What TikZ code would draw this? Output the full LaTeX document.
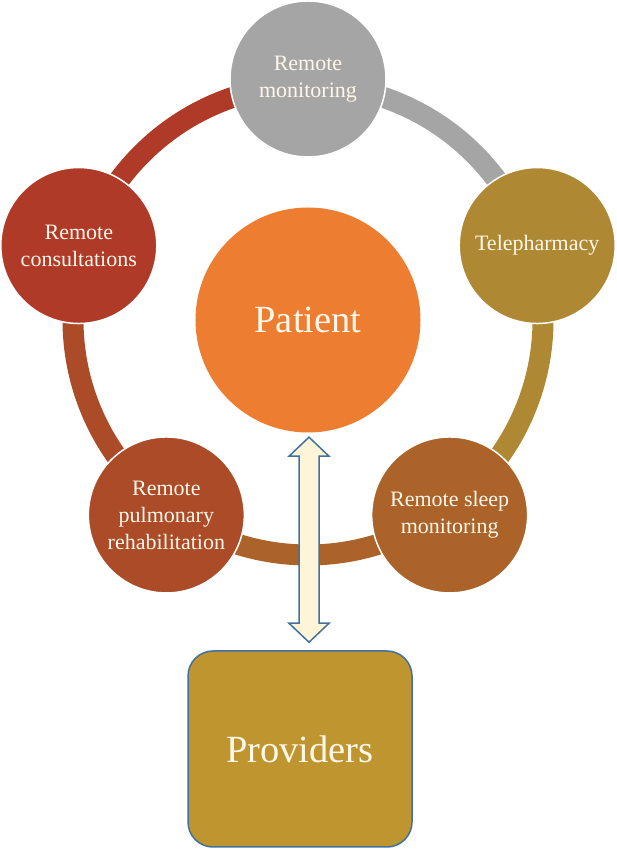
\documentclass[tikz,border=0pt]{standalone}
\usepackage{fontspec}
\setmainfont{Liberation Serif}
\definecolor{ringgray}{HTML}{A5A5A5}
\definecolor{pharmgold}{HTML}{AE8833}
\definecolor{sleepbrown}{HTML}{AB6329}
\definecolor{pulmrust}{HTML}{AC4B27}
\definecolor{consred}{HTML}{B03A28}
\definecolor{patorange}{HTML}{ED7D31}
\definecolor{provgold}{HTML}{BF952F}
\definecolor{edgeblue}{HTML}{41719C}
\definecolor{arrowcream}{HTML}{FEF4D8}
\definecolor{labelcream}{HTML}{FFF7EA}
\begin{document}
\begin{tikzpicture}[x=1pt, y=1pt,
    service/.style={circle, draw=white, line width=1.5pt, minimum size=156pt, inner sep=0pt,
        align=center, text=labelcream, font=\fontsize{22}{27}\selectfont},
    segment/.style={line width=21pt},
    twoway/.style={draw=edgeblue, line width=1.5pt, fill=arrowcream, line join=miter}]

    \useasboundingbox (0,0) rectangle (617,849);
    \coordinate (hub) at (308,529);

    \draw[segment, ringgray] ([shift={(90:235)}]hub) arc[start angle=90, end angle=18, radius=235];
    \draw[segment, pharmgold] ([shift={(18:235)}]hub) arc[start angle=18, end angle=-54, radius=235];
    \draw[segment, sleepbrown] ([shift={(-54:235)}]hub) arc[start angle=-54, end angle=-126, radius=235];
    \draw[segment, pulmrust] ([shift={(-126:235)}]hub) arc[start angle=-126, end angle=-198, radius=235];
    \draw[segment, consred] ([shift={(162:235)}]hub) arc[start angle=162, end angle=90, radius=235];

    \node[service, fill=ringgray] (monitor) at ([shift={(90:241)}]hub) {Remote\\monitoring};
    \node[service, fill=pharmgold] (pharmacy) at ([shift={(18:241)}]hub) {Telepharmacy};
    \node[service, fill=sleepbrown] (sleep) at ([shift={(-54:241)}]hub) {Remote sleep\\monitoring};
    \node[service, fill=pulmrust] (rehab) at ([shift={(-126:241)}]hub) {Remote\\pulmonary\\rehabilitation};
    \node[service, fill=consred] (consult) at ([shift={(162:241)}]hub) {Remote\\consultations};

    \node[circle, fill=patorange, minimum size=225pt, inner sep=0pt, text=labelcream,
        font=\fontsize{38.5}{44}\selectfont] (patient) at (hub) {Patient};

    \node[rounded corners=25pt, draw=edgeblue, line width=1.5pt, fill=provgold,
        minimum width=224pt, minimum height=196pt, text=labelcream,
        font=\fontsize{38.5}{44}\selectfont] (providers) at (300,100) {Providers};

    \coordinate (up) at ([shift={(1,-4.5)}]patient.south);
    \coordinate (down) at ([yshift=8]up |- providers.north);
    \draw[twoway] (up) -- ++(20,-19) -- ++(-10,0) -- ([shift={(10,19)}]down) -- ++(10,0)
        -- (down) -- ++(-20,19) -- ++(10,0) -- ([shift={(-10,-19)}]up) -- ++(-10,0) -- cycle;
\end{tikzpicture}
\end{document}
